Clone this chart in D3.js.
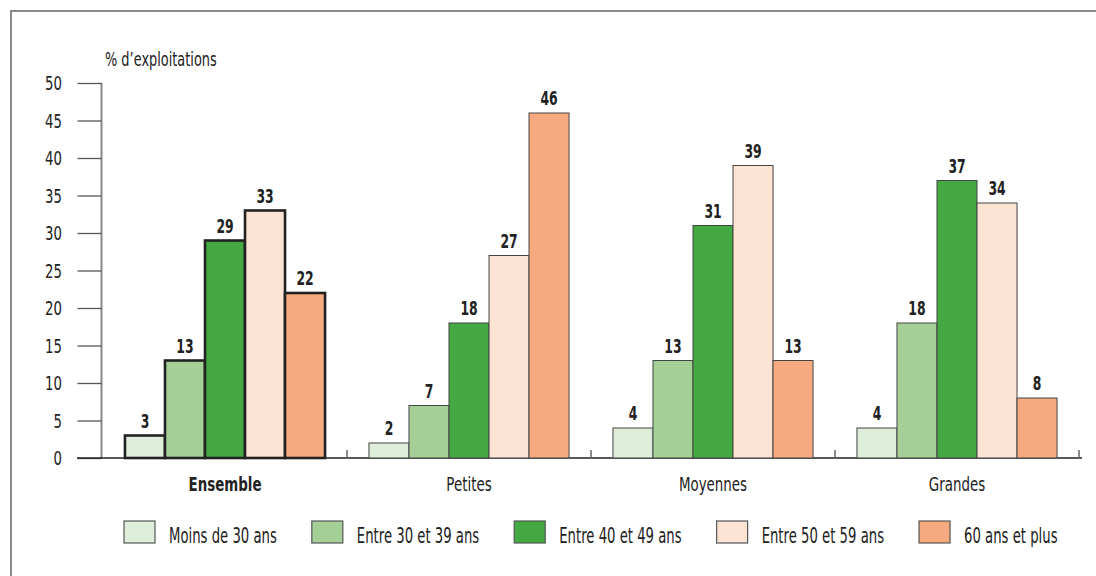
<!DOCTYPE html>
<html><head><meta charset="utf-8">
<script src="https://cdn.jsdelivr.net/npm/d3@7"></script>
<style>
html,body{margin:0;padding:0;background:#fff;}
svg text{font-family:"DejaVu Sans",sans-serif;fill:#222;}
</style></head>
<body>
<svg id="chart" width="1096" height="576"></svg>
<script>
const categories = ["Ensemble", "Petites", "Moyennes", "Grandes"];
const seriesNames = ["Moins de 30 ans", "Entre 30 et 39 ans", "Entre 40 et 49 ans", "Entre 50 et 59 ans", "60 ans et plus"];
const moins30 = [3, 2, 4, 4];
const entre30_39 = [13, 7, 13, 18];
const entre40_49 = [29, 18, 31, 37];
const entre50_59 = [33, 27, 39, 34];
const plus60 = [22, 46, 13, 8];
const yTicks = [0, 5, 10, 15, 20, 25, 30, 35, 40, 45, 50];
const colors = ["#dfeddb", "#a4cf97", "#44a843", "#fde3d3", "#f7aa80"];
const yTitle = "% d\u2019exploitations";

const series = [moins30, entre30_39, entre40_49, entre50_59, plus60];

const svg = d3.select("#chart");

// condensed text helper (horizontal squeeze of the installed font)
function ctext(parent, x, y, sx, size, txt, anchor, weight) {
  return parent.append("text")
    .attr("transform", `translate(${x},${y}) scale(${sx},1)`)
    .attr("text-anchor", anchor || "start")
    .style("font-size", size + "px")
    .style("font-weight", weight || "normal")
    .text(txt);
}

// frame
svg.append("path").attr("d", "M11,576 L11,11 L1096,11")
  .attr("fill", "none").attr("stroke", "#8a8a8a").attr("stroke-width", 2);

const y = d3.scaleLinear().domain([0, 50]).range([458, 83]);
const x0 = d3.scaleBand().domain(categories).range([103, 1079]).paddingInner(0.18).paddingOuter(0.09);
const x1 = d3.scaleBand().domain(d3.range(seriesNames.length)).range([0, x0.bandwidth()]);

// y axis
const tickSx = 0.7;
const yAxis = d3.axisLeft(y).tickValues(yTicks).tickSize(24).tickPadding(15.5);
const gy = svg.append("g").attr("transform", "translate(101.5,0)").call(yAxis);
gy.select(".domain").attr("stroke", "#888").attr("stroke-width", 2).attr("d", "M0,83V458");
gy.selectAll(".tick line").attr("stroke", "#555").attr("stroke-width", 1.3);
gy.selectAll(".tick text")
  .attr("x", -39.5 / tickSx)
  .attr("transform", `scale(${tickSx},1)`)
  .attr("dy", "0.36em")
  .style("font-size", "19px").attr("fill", "#222");

// y title
ctext(svg, 105, 66, 0.68, 19, yTitle);

// baseline
svg.append("line").attr("x1", 77).attr("x2", 1082).attr("y1", y(0)).attr("y2", y(0))
  .attr("stroke", "#222").attr("stroke-width", 1.5);
// separators
const half = x0.step() * x0.paddingInner() / 2;
const seps = categories.slice(1).map(c => x0(c) - half)
  .concat([x0(categories[categories.length - 1]) + x0.bandwidth() + half]);
svg.selectAll("line.sep").data(seps).join("line").attr("class", "sep")
  .attr("x1", d => d).attr("x2", d => d).attr("y1", y(0) - 8).attr("y2", y(0))
  .attr("stroke", "#666").attr("stroke-width", 1.5);

// bars
const groups = svg.selectAll("g.grp").data(categories).join("g").attr("class", "grp")
  .attr("transform", c => `translate(${x0(c)},0)`);

groups.each(function(c, ci) {
  const g = d3.select(this);
  const isEns = ci === 0;
  series.forEach((arr, si) => {
    const v = arr[ci];
    g.append("rect")
      .attr("x", x1(si)).attr("width", x1.bandwidth())
      .attr("y", y(v)).attr("height", y(0) - y(v))
      .attr("fill", colors[si])
      .attr("stroke", isEns ? "#222" : "#444")
      .attr("stroke-width", isEns ? 2.6 : 1);
    ctext(g, x1(si) + x1.bandwidth() / 2, y(v) - 8, 0.62, 20, v, "middle", "bold");
  });
});

// category labels
categories.forEach((c, i) => {
  ctext(svg, x0(c) + x0.bandwidth() / 2, 491, 0.67, 20, c, "middle", i === 0 ? "bold" : "normal");
});

// legend
let lx = 124;
const legSx = 0.63;
seriesNames.forEach((name, i) => {
  svg.append("rect").attr("x", lx).attr("y", 521).attr("width", 31).attr("height", 22)
    .attr("fill", colors[i]).attr("stroke", "#555").attr("stroke-width", 1.2);
  const t = ctext(svg, lx + 45, 543, legSx, 21, name);
  lx += 45 + t.node().getComputedTextLength() * legSx + 35;
});
</script>
</body></html>
